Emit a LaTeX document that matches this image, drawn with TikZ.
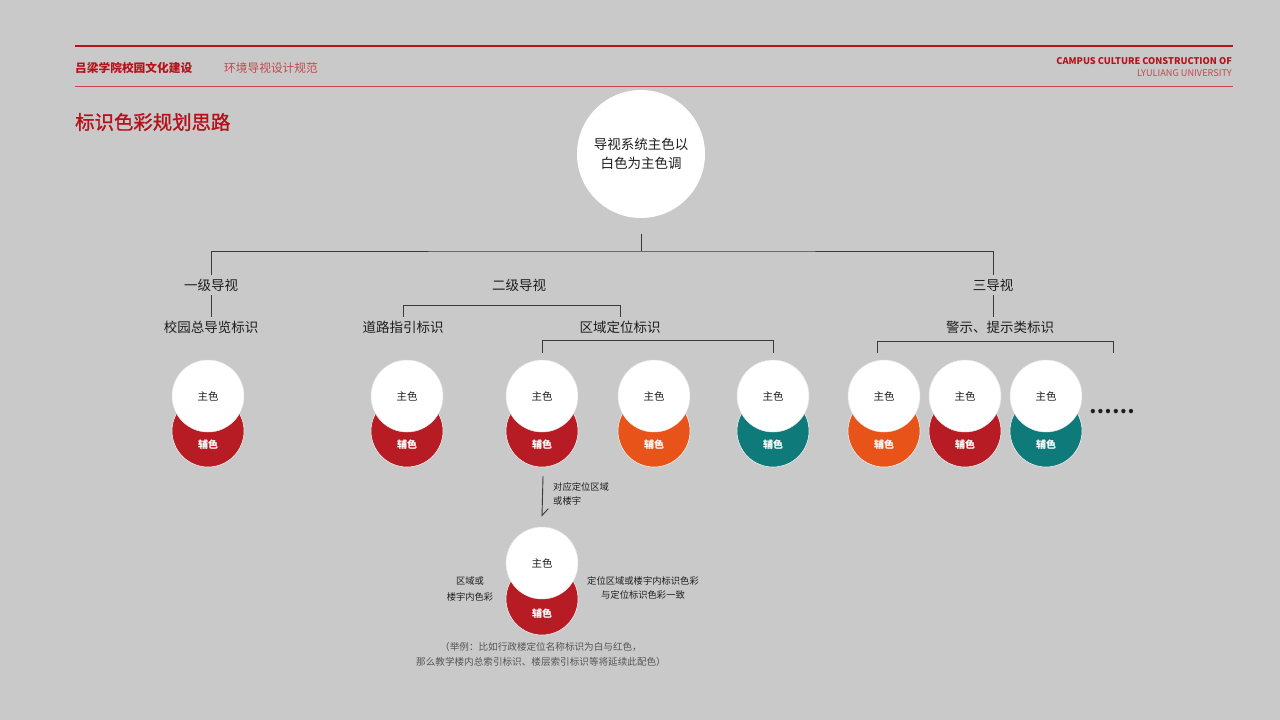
\documentclass[tikz,border=0pt]{standalone}
\usepackage{fontspec}
\setmainfont{Noto Sans CJK SC}
\newfontfamily\titlefont[FakeBold=1.2]{Noto Sans CJK SC}
\usetikzlibrary{arrows.meta}

\definecolor{bgcol}{HTML}{C9C9C9}
\definecolor{deepred}{HTML}{B5121B}
\definecolor{softred}{HTML}{C4474D}
\definecolor{textdark}{HTML}{1E1E1E}
\definecolor{linegray}{HTML}{3A3A3A}
\definecolor{notegray}{HTML}{555555}
\definecolor{signred}{HTML}{B71C24}
\definecolor{signorange}{HTML}{E8531A}
\definecolor{signteal}{HTML}{0E7A7A}

\tikzset{
  tree/.style={draw=linegray, line width=0.9pt},
  lvltext/.style={font=\fontsize{13.5}{16}\selectfont, text=textdark, inner sep=4pt},
  smalltext/.style={font=\fontsize{9.3}{14}\selectfont, text=textdark, inner sep=0pt},
  primary/.style={circle, fill=white, draw=white!80!gray, line width=0.5pt,
    minimum size=72pt, inner sep=0pt, font=\fontsize{10.5}{12}\selectfont, text=textdark},
  accent/.style={circle, draw=white!70!bgcol, line width=0.6pt, minimum size=72pt, inner sep=0pt},
  accentlabel/.style={font=\bfseries\fontsize{10}{12}\selectfont, text=white, inner sep=0pt}
}

\begin{document}
\begin{tikzpicture}[x=1pt,y=-1pt]
  \fill[bgcol] (0,0) rectangle (1280,720);
  \useasboundingbox (0,0) rectangle (1280,720);

  % header
  \coordinate (topL) at (75,46);
  \coordinate (topR) at (1233,46);
  \coordinate (rulL) at (75,86);
  \coordinate (rulR) at (1233,86);
  \draw[deepred, line width=2pt] (topL) -- (topR);
  \draw[softred, line width=0.8pt] (rulL) -- (rulR);
  \node[anchor=west, inner sep=0pt, text=deepred, font=\bfseries\fontsize{11.7}{14}\selectfont] (school) at (75,68) {吕梁学院校园文化建设};
  \node[anchor=west, inner sep=0pt, text=softred, font=\fontsize{11.7}{14}\selectfont] (manual) at (224,68) {环境导视设计规范};
  \node[anchor=east, inner sep=0pt, text=deepred, font=\bfseries\fontsize{9.2}{11}\selectfont] (engA) at (1232,61) {CAMPUS CULTURE CONSTRUCTION OF};
  \node[anchor=east, inner sep=0pt, text=softred, font=\fontsize{9.2}{11}\selectfont] (engB) at (1232,73) {LYULIANG UNIVERSITY};
  \node[anchor=west, inner sep=0pt, text=deepred, font=\titlefont\fontsize{19.4}{22}\selectfont] (title) at (75,122) {标识色彩规划思路};

  % main circle
  \node[circle, fill=white, minimum size=128pt, inner sep=0pt, align=center, text=textdark,
    font=\fontsize{13.5}{19}\selectfont] (main) at (641,154) {导视系统主色以\\白色为主色调};

  % levels
  \node[lvltext] (lvl1) at (211,285) {一级导视};
  \node[lvltext] (lvl2) at (519,285) {二级导视};
  \node[lvltext] (lvl3) at (993,285) {三导视};
  \node[lvltext] (zonglan) at (211,327) {校园总导览标识};
  \node[lvltext] (daolu) at (403,327) {道路指引标识};
  \node[lvltext] (quyu) at (620,327) {区域定位标识};
  \node[lvltext] (jingshi) at (1000,327) {警示、提示类标识};

  \coordinate (trunk) at (641,251);
  \draw[tree] ([yshift=-16pt]main.south) -- (trunk);
  \draw[tree] (lvl1.north) |- (trunk) -| (lvl3.north);
  \draw[tree] (lvl1.south) -- (zonglan.north);
  \draw[tree] (lvl3.south) -- (lvl3.south |- jingshi.north);
  \draw[tree] (daolu.north) -- ++(0,-11) -| (quyu.north);

  % colour pairs
  \foreach \px/\pc [count=\i] in {208/signred, 407/signred, 542/signred, 654/signorange,
      773/signteal, 884/signorange, 965/signred, 1046/signteal}{
    \node[accent, fill=\pc] (a\i) at (\px,431) {};
    \node[accentlabel] (al\i) at (\px,445) {辅色};
    \node[primary] (p\i) at (\px,396) {主色};
  }
  \node[inner sep=0pt, text=textdark, font=\bfseries\fontsize{20}{20}\selectfont] (more) at (1112,412) {……};

  \draw[tree] ([yshift=7pt]p3.north) -- ++(0,-12) -| ([yshift=7pt]p5.north);
  \coordinate (jL) at (877,353);
  \coordinate (jR) at (1113,353);
  \draw[tree] (jL) -- ++(0,-12) -| (jR);

  % example pair
  \node[accent, fill=signred] (a9) at (542,599) {};
  \node[accentlabel] (al9) at (542,614) {辅色};
  \node[primary] (p9) at (542,563) {主色};

  \coordinate (arrtop) at (543,476);
  \draw[tree, -{Straight Barb[harpoon, length=7pt, width=12pt]}] (arrtop) -- ([yshift=10pt]p9.north);
  \node[smalltext, anchor=west, align=left] (zone) at (553,494) {对应定位区域\\或楼宇};
  \node[smalltext, align=center, font=\fontsize{9.3}{16}\selectfont] (inner) at (470,589) {区域或\\楼宇内色彩};
  \node[smalltext, align=center] (same) at (643,588) {定位区域或楼宇内标识色彩\\与定位标识色彩一致};
  \node[smalltext, align=center, text=notegray, font=\fontsize{9.6}{15}\selectfont] (note) at (541,654)
    {（举例：比如行政楼定位名称标识为白与红色，\\那么教学楼内总索引标识、楼层索引标识等将延续此配色）};
\end{tikzpicture}
\end{document}
